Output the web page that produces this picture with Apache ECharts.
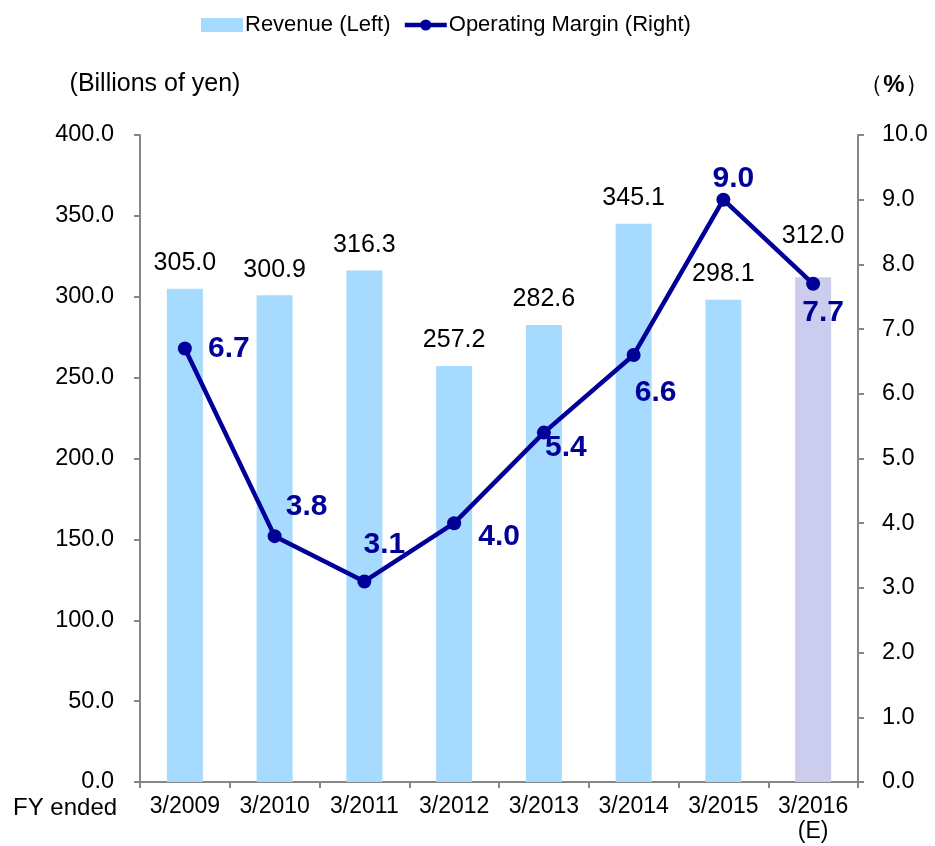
<!DOCTYPE html>
<html>
<head>
<meta charset="utf-8">
<script src="https://cdn.jsdelivr.net/npm/echarts@6/dist/echarts.min.js"></script>
<style>
  html, body { margin: 0; padding: 0; background: #fff; }
  #chart { width: 935px; height: 846px; }
</style>
</head>
<body>
<div id="chart"></div>
<script>
// data
var years = ['3/2009', '3/2010', '3/2011', '3/2012', '3/2013', '3/2014', '3/2015', '3/2016\n(E)'];
var revenue = [305.0, 300.9, 316.3, 257.2, 282.6, 345.1, 298.1, 312.0];
var margin = [6.7, 3.8, 3.1, 4.0, 5.4, 6.6, 9.0, 7.7];

// where each margin label sits relative to its point
var marginLabelOffsets = [[44, 0], [32, -29], [20, -37], [45, 14], [22, 15], [22, 38], [10, -21], [10, 29]];

var FONT = 'Liberation Sans, Arial, sans-serif';
var BAR_BLUE = '#A6DAFF';
var BAR_EST = '#CCCCEE';
var NAVY = '#000099';
var AXIS_GRAY = '#868686';

var chart = echarts.init(document.getElementById('chart'));

var barData = revenue.map(function (v, i) {
  var item = { value: v };
  if (i === revenue.length - 1) {
    item.itemStyle = { color: BAR_EST };
    item.label = { offset: [0, -16] };
  }
  return item;
});

var lineData = margin.map(function (v, i) {
  return { value: v, label: { offset: marginLabelOffsets[i] } };
});

chart.setOption({
  animation: false,
  textStyle: { fontFamily: FONT },
  legend: {
    left: 196,
    top: 9,
    itemWidth: 42,
    itemHeight: 14,
    itemGap: 12,
    textStyle: { fontSize: 22, color: '#000', padding: [0, 0, 0, -3] },
    lineStyle: { width: 4.5 },
    data: [
      { name: 'Revenue (Left)', icon: 'rect' },
      { name: 'Operating Margin (Right)' }
    ]
  },
  grid: { left: 140, right: 77, top: 135, bottom: 64 },
  xAxis: {
    type: 'category',
    data: years,
    axisLine: { lineStyle: { color: AXIS_GRAY, width: 2 } },
    axisTick: { show: true, length: 6, lineStyle: { color: AXIS_GRAY, width: 2 } },
    axisLabel: { interval: 0, fontSize: 23, color: '#000', margin: 12, lineHeight: 25 }
  },
  yAxis: [
    {
      type: 'value',
      min: 0, max: 400, interval: 50,
      name: '(Billions of yen)',
      nameLocation: 'end',
      nameGap: 38,
      nameTextStyle: { fontSize: 25, color: '#000', align: 'center', padding: [0, 0, 0, 30] },
      splitLine: { show: false },
      axisLine: { show: true, lineStyle: { color: AXIS_GRAY, width: 2 } },
      axisTick: { show: true, length: 6, lineStyle: { color: AXIS_GRAY, width: 2 } },
      axisLabel: {
        fontSize: 23.5, color: '#000', margin: 26,
        formatter: function (v) { return v.toFixed(1); }
      }
    },
    {
      type: 'value',
      min: 0, max: 10, interval: 1,
      name: '（{b|%}）',
      nameLocation: 'end',
      nameGap: 38,
      nameTextStyle: {
        fontSize: 24, color: '#000', align: 'center', padding: [0, 0, 0, 72],
        rich: { b: { fontSize: 24, fontWeight: 'bold', color: '#000' } }
      },
      splitLine: { show: false },
      axisLine: { show: true, lineStyle: { color: AXIS_GRAY, width: 2 } },
      axisTick: { show: true, length: 6, lineStyle: { color: AXIS_GRAY, width: 2 } },
      axisLabel: {
        fontSize: 23.5, color: '#000', margin: 24,
        formatter: function (v) { return v.toFixed(1); }
      }
    }
  ],
  series: [
    {
      name: 'Revenue (Left)',
      type: 'bar',
      yAxisIndex: 0,
      barWidth: 36,
      itemStyle: { color: BAR_BLUE },
      label: {
        show: true, position: 'top', distance: 13,
        fontSize: 25, color: '#000',
        formatter: function (p) { return p.value.toFixed(1); }
      },
      data: barData,
      z: 1
    },
    {
      name: 'Operating Margin (Right)',
      type: 'line',
      yAxisIndex: 1,
      symbol: 'circle',
      symbolSize: 14,
      lineStyle: { color: NAVY, width: 4.5 },
      itemStyle: { color: NAVY },
      label: {
        show: true, position: 'inside',
        fontSize: 30, fontWeight: 'bold', color: NAVY,
        formatter: function (p) { return p.value.toFixed(1); }
      },
      data: lineData,
      z: 3
    }
  ],
  graphic: [
    {
      type: 'text',
      left: 13,
      top: 796,
      style: { text: 'FY ended', font: '24px ' + FONT, fill: '#000' }
    }
  ]
});
</script>
</body>
</html>
